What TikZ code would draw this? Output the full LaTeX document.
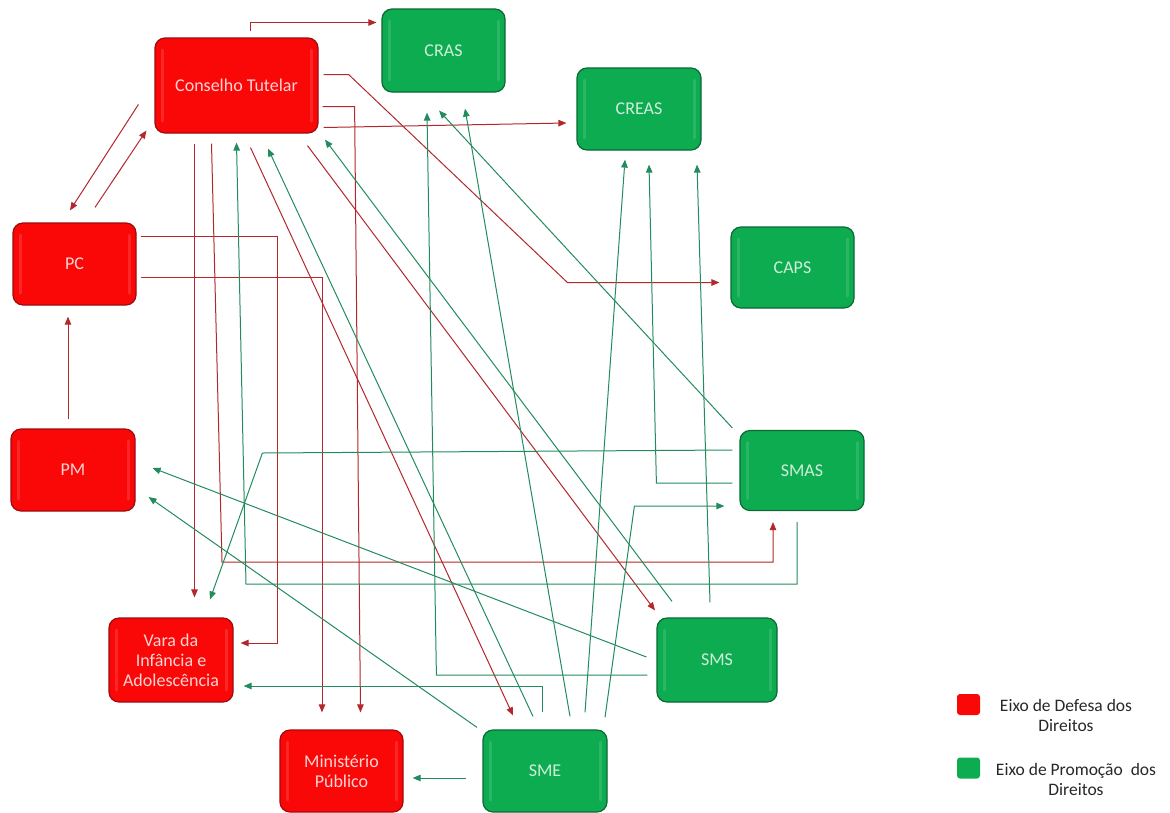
\documentclass[tikz,border=0pt]{standalone}
\usepackage{fontspec}
\setmainfont{Carlito}
\usetikzlibrary{arrows.meta,calc}
\definecolor{boxred}{RGB}{250,8,8}
\definecolor{boxredd}{RGB}{160,10,15}
\definecolor{boxgreen}{RGB}{14,172,80}
\definecolor{boxgreend}{RGB}{10,105,52}
\definecolor{linered}{RGB}{178,40,45}
\definecolor{linegreen}{RGB}{35,140,95}
\definecolor{legtext}{RGB}{40,40,40}
\tikzset{
  bevel/.style={path picture={
    \draw[#1, line width=3pt, line cap=round]
      ([xshift=7pt,yshift=-12pt]path picture bounding box.north west) --
      ([xshift=7pt,yshift=12pt]path picture bounding box.south west);
    \draw[#1, line width=3pt, line cap=round]
      ([xshift=-7pt,yshift=-12pt]path picture bounding box.north east) --
      ([xshift=-7pt,yshift=12pt]path picture bounding box.south east);
  }},
  box/.style={rounded corners=10pt, minimum width=124pt, minimum height=82pt,
    inner sep=2pt, align=center, font=\fontsize{18}{20}\selectfont, line width=1.2pt},
  rbox/.style={box, fill=boxred, draw=boxredd, text=white!82!boxred, bevel=white!12!boxred},
  gbox/.style={box, fill=boxgreen, draw=boxgreend, text=white!80!boxgreen, bevel=white!12!boxgreen},
  tip/.style={-{Triangle[length=8pt,width=6.5pt]}},
  rl/.style={draw=linered, line width=1pt, tip},
  gl/.style={draw=linegreen, line width=1pt, tip},
  legbox/.style={rounded corners=3pt, minimum width=23pt, minimum height=21pt, inner sep=0pt},
  legtxt/.style={font=\fontsize{17.5}{20}\selectfont, text=legtext, align=center},
}
\begin{document}
\begin{tikzpicture}[x=1pt,y=-1pt]
\useasboundingbox (0,0) rectangle (1170,812);
\fill[white] (0,0) rectangle (1170,812);

% nodes
\node[rbox, minimum width=163pt, minimum height=95pt] (ct) at (236.5,85.5) {Conselho Tutelar};
\node[gbox, minimum width=123pt, minimum height=83pt] (cras) at (443.5,50.5) {CRAS};
\node[gbox] (creas) at (639,109) {CREAS};
\node[gbox, minimum width=123pt, minimum height=81pt] (caps) at (792.5,267.5) {CAPS};
\node[rbox, minimum width=123pt] (pc) at (74.5,264) {PC};
\node[rbox] (pm) at (73,470) {PM};
\node[gbox, minimum height=80pt] (smas) at (802,470.5) {SMAS};
\node[gbox, minimum width=120pt, minimum height=84pt] (sms) at (717,660) {SMS};
\node[rbox, minimum height=84pt] (vara) at (171,660) {Vara da\\Infância e\\Adolescência};
\node[rbox, minimum width=123pt] (mp) at (341.5,771) {Ministério\\Público};
\node[gbox] (sme) at (545,771) {SME};

% red connectors
\draw[rl] ([shift={(14,-6)}]ct.north) |- ([shift={(-5,-28)}]cras.west);
\draw[rl] ([shift={(5,-11)}]ct.east) -- ++(25,0) -- ([shift={(-163,15)}]caps.west) -- ([shift={(-11,15)}]caps.west);
\draw[rl] ([shift={(4,21)}]ct.east) -- ++(32,0) -- ([shift={(19,-17)}]mp.north);
\draw[rl] ([shift={(-42,10)}]ct.south) -- ([shift={(23.5,-20)}]vara.north);
\draw[rl] ([shift={(-25,10)}]ct.south) -- ([shift={(-580,51)}]smas.south) -| ([shift={(-29,11)}]smas.south);
\draw[rl] ([shift={(5,42)}]ct.east) -- ([shift={(-10,14)}]creas.west);
\draw[rl] ([shift={(14,14)}]ct.south) -- ([shift={(-32,-14)}]sme.north);
\draw[rl] ([shift={(71,12)}]ct.south) -- ([shift={(-62,-7)}]sms.north);
\draw[rl] ([shift={(-16,19)}]ct.west) -- ([shift={(-4.5,-12)}]pc.north);
\draw[rl] ([shift={(20.5,-15)}]pc.north) -- ([shift={(-8,45)}]ct.west);
\draw[rl] ([shift={(-5,-9)}]pm.north) -- ([shift={(-6.5,11)}]pc.south);
\draw[rl] ([shift={(4,-28)}]pc.east) -| ([shift={(44,-17)}]vara.east) -- ([shift={(7,-17)}]vara.east);
\draw[rl] ([shift={(4,13)}]pc.east) -| ([shift={(-19.5,-17)}]mp.north);

% green connectors
\draw[gl] ([shift={(-16,7)}]sme.west) -- ([shift={(9,7)}]mp.east);
\draw[gl] ([shift={(-3,-17)}]sme.north) |- ([shift={(10,26)}]vara.east);
\draw[gl] ([shift={(25,-13)}]sme.north) -- ([shift={(21.5,16)}]cras.south);
\draw[gl] ([shift={(40,-17)}]sme.north) -- ([shift={(-14,9)}]creas.south);
\draw[gl] ([shift={(60,-12)}]sme.north) -- ([shift={(-105,35.5)}]smas.west) -- ([shift={(-15,35.5)}]smas.west);
\draw[gl] ([shift={(-68,-2)}]sme.north) -- ([shift={(13,27)}]pm.east);
\draw[gl] ([shift={(-12,-13)}]sme.north) -- ([shift={(31.5,15)}]ct.south);
\draw[gl] ([shift={(-5,11)}]smas.south) -- ([shift={(-5,73)}]smas.south) -- ([shift={(-556,73)}]smas.south) -- ([shift={(0,9)}]ct.south);
\draw[gl] ([shift={(-45,-16)}]sms.north) -- ([shift={(88.5,6)}]ct.south);
\draw[gl] ([shift={(-9,15)}]sms.west) -- ([shift={(-220,15)}]sms.west) -- ([shift={(-16.5,20)}]cras.south);
\draw[gl] ([shift={(-7,-42.5)}]smas.west) -- ([shift={(-4.5,18)}]cras.south);
\draw[gl] ([shift={(-7,12.5)}]smas.west) -- ([shift={(-83,12.5)}]smas.west) -- ([shift={(10,14)}]creas.south);
\draw[gl] ([shift={(-7,-15)}]sms.north) -- ([shift={(58,14)}]creas.south);
\draw[gl] ([shift={(-7,-20.5)}]smas.west) -- ([shift={(-477,-17.5)}]smas.west) -- ([shift={(39,-18)}]vara.north);
\draw[gl] ([shift={(-10,-3)}]sms.west) -- ([shift={(17,-2)}]pm.east);

% legend
\node[legbox, fill=boxred] (legr) at (968.5,704.5) {};
\node[legbox, fill=boxgreen] (legg) at (968.5,768) {};
\node[legtxt] (legrt) at (1066,715) {Eixo de Defesa dos\\Direitos};
\node[legtxt] (leggt) at (1076,779) {Eixo de Promoção\ \ dos\\Direitos};
\end{tikzpicture}
\end{document}
